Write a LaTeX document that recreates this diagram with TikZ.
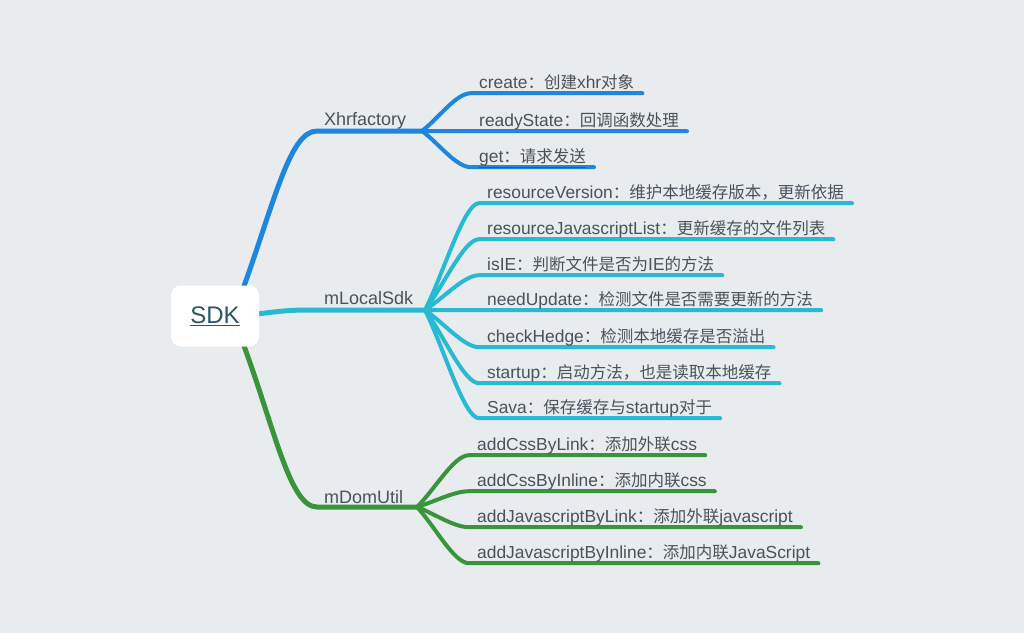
\documentclass[tikz,border=0pt]{standalone}
\usepackage{fontspec}
\setmainfont{Liberation Sans}
\newfontfamily\cjk{Noto Sans CJK SC}[Scale=0.948]
\usetikzlibrary{calc}
\definecolor{bgc}{HTML}{E8ECEF}
\definecolor{txt}{HTML}{4A525B}
\definecolor{sdkc}{HTML}{2D5566}
\definecolor{blue1}{HTML}{1E86DC}
\definecolor{cyan1}{HTML}{29BAD3}
\definecolor{green1}{HTML}{3A943C}
\pgfdeclarelayer{bg}
\pgfsetlayers{bg,main}
\newcommand\mmbranch[3]{\draw[#1] (#2) .. controls ($(#2)!0.35!(#3.south west)$) and ($(#3.south west)+(-15,0)$) .. (#3.south west) -- (#3.south east);}
\tikzset{
  leaf/.style={anchor=base west, inner xsep=8pt, inner ysep=5pt, text depth=0pt, text height=12pt,
    text=txt, font=\fontsize{17.4pt}{19pt}\selectfont},
  blab/.style={anchor=base west, inner sep=0pt, text=txt, font=\fontsize{18pt}{20pt}\selectfont},
  bl/.style={draw=blue1, line width=4pt, line cap=round},
  cy/.style={draw=cyan1, line width=4pt, line cap=round},
  gr/.style={draw=green1, line width=4pt, line cap=round},
  thick5/.style={line width=5pt},
}
\begin{document}
\begin{tikzpicture}[x=1pt,y=-1pt]
\begin{pgfonlayer}{bg}
\fill[bgc] (0,0) rectangle (1024,633);
\end{pgfonlayer}
\useasboundingbox (0,0) rectangle (1024,633);
% root
\node[fill=white, rounded corners=10pt, minimum width=88pt, minimum height=61pt, inner sep=0pt,
  text=sdkc, font=\fontsize{24pt}{26pt}\selectfont] (sdk) at (215,316) {\underline{SDK}};
% branch labels
\node[blab] (xhr) at (324,125) {Xhrfactory};
\node[blab] (mls) at (324,304) {mLocalSdk};
\node[blab] (mdu) at (324,503) {mDomUtil};
\coordinate (f1) at (422,131);
\coordinate (f2) at (425,310);
\coordinate (f3) at (417,507);
\coordinate (c1) at (317,131);
\coordinate (c2) at (325,310);
\coordinate (c3) at (317,507);
% leaves
\node[leaf] (x1) at (471,88) {create{\cjk ：创建}xhr{\cjk 对象}};
\node[leaf] (x2) at (471,126) {readyState{\cjk ：回调函数处理}};
\node[leaf] (x3) at (471,162) {\underline{get{\cjk ：请求发送}}};
\node[leaf] (l1) at (479,198) {resourceVersion{\cjk ：维护本地缓存版本，更新依据}};
\node[leaf] (l2) at (479,234) {resourceJavascriptList{\cjk ：更新缓存的文件列表}};
\node[leaf] (l3) at (479,270) {isIE{\cjk ：判断文件是否为}IE{\cjk 的方法}};
\node[leaf] (l4) at (479,305) {needUpdate{\cjk ：检测文件是否需要更新的方法}};
\node[leaf] (l5) at (479,342) {checkHedge{\cjk ：检测本地缓存是否溢出}};
\node[leaf] (l6) at (479,378) {startup{\cjk ：启动方法，也是读取本地缓存}};
\node[leaf] (l7) at (479,413) {Sava{\cjk ：保存缓存与}startup{\cjk 对于}};
\node[leaf] (m1) at (469,450) {addCssByLink{\cjk ：添加外联}css};
\node[leaf] (m2) at (469,486) {addCssByInline{\cjk ：添加内联}css};
\node[leaf] (m3) at (469,522) {addJavascriptByLink{\cjk ：添加外联}javascript};
\node[leaf] (m4) at (469,558) {addJavascriptByInline{\cjk ：添加内联}JavaScript};
\begin{pgfonlayer}{bg}
% main branches
\draw[bl, thick5] ($(sdk.north east)+(-16,3)$) .. controls (275,200) and (290,131) .. (c1) -- (f1);
\draw[cy, thick5] ($(sdk.east)+(-2,-2)$) .. controls (290,310) .. (c2) -- (f2);
\draw[gr, thick5] ($(sdk.south east)+(-16,-3)$) .. controls (275,430) and (290,507) .. (c3) -- (f3);
% leaves
\mmbranch{bl}{f1}{x1}
\mmbranch{bl}{f1}{x2}
\mmbranch{bl}{f1}{x3}
\mmbranch{cy}{f2}{l1}
\mmbranch{cy}{f2}{l2}
\mmbranch{cy}{f2}{l3}
\mmbranch{cy}{f2}{l4}
\mmbranch{cy}{f2}{l5}
\mmbranch{cy}{f2}{l6}
\mmbranch{cy}{f2}{l7}
\mmbranch{gr}{f3}{m1}
\mmbranch{gr}{f3}{m2}
\mmbranch{gr}{f3}{m3}
\mmbranch{gr}{f3}{m4}
\end{pgfonlayer}
\end{tikzpicture}
\end{document}
